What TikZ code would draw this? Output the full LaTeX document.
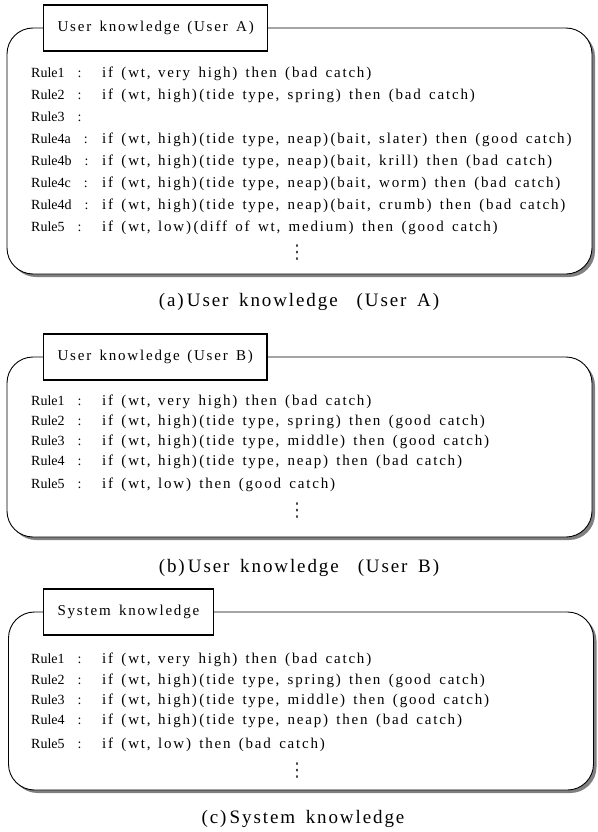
\documentclass[tikz,border=0pt]{standalone}
\usepackage{fontspec}
\setmainfont{Liberation Serif}
\newfontfamily\bodyfont[LetterSpace=12,WordSpace=1.5]{Liberation Serif}
\newfontfamily\capfont[LetterSpace=10,WordSpace=1.6]{Liberation Serif}
\newfontfamily\symfont{DejaVu Sans}
\usepackage{tikz}
\usetikzlibrary{positioning,shadows}

\newcommand{\rlab}[1]{\makebox[71pt][l]{#1\hspace{13pt}:}}
\newcommand{\vdotstext}{{\symfont\fontsize{19}{19}\selectfont ⋮}}

\begin{document}
\begin{tikzpicture}[x=1pt, y=-1pt,
    font=\fontsize{14}{16}\selectfont,
    kbox/.style={draw, line width=0.9pt, rounded corners=26pt, fill=white,
                 minimum width=585pt,
                 drop shadow={shadow xshift=3pt, shadow yshift=-3pt, fill=black!50, opacity=1}},
    tbox/.style={draw, line width=1.1pt, fill=white, minimum height=46pt,
                 inner xsep=14pt, font=\fontsize{15}{17}\selectfont\bodyfont},
    ruleline/.style={anchor=west, inner sep=0pt, text height=10pt, text depth=3pt},
    vdotsnode/.style={inner sep=0pt, text=black!75},
    capnode/.style={font=\fontsize{19}{21}\selectfont\capfont}]

    \useasboundingbox (0,0) rectangle (597,832);

    % (a) User A
    \node[kbox, minimum height=246pt] (KA) at (299.5,151) {};
    \node[tbox, anchor=west] (TA) at (43,28) {User knowledge\enspace(User A)};
    \foreach \y/\lab/\txt [count=\i] in {
        74/Rule1/{if (wt,\enspace very high) then (bad catch)},
        96/Rule2/{if (wt,\enspace high)\,(tide type, spring) then (bad catch)},
        118/Rule3/{},
        140/Rule4a/{if (wt,\enspace high)\,(tide type, neap)\,(bait, slater) then (good catch)},
        162/Rule4b/{if (wt,\enspace high)\,(tide type, neap)\,(bait, krill) then (bad catch)},
        184/Rule4c/{if (wt,\enspace high)\,(tide type, neap)\,(bait, worm) then (bad catch)},
        206/Rule4d/{if (wt,\enspace high)\,(tide type, neap)\,(bait, crumb) then (bad catch)},
        228/Rule5/{if (wt,\enspace low)\,(diff of wt, medium) then (good catch)}}{
      \node[ruleline] (A\i) at (31,\y) {\rlab{\lab}{\fontsize{15}{17}\bodyfont\txt}};
    }
    \node[vdotsnode] (DA) at (297,253) {\vdotstext};
    \node[capnode] (CA) at (299,302) {(a)\,User knowledge\quad(User A)};

    % (b) User B
    \node[kbox, minimum height=180pt] (KB) at (299.5,447) {};
    \node[tbox, anchor=west] (TB) at (43,357) {User knowledge\enspace(User B)};
    \foreach \y/\lab/\txt [count=\i] in {
        402/Rule1/{if (wt,\enspace very high) then (bad catch)},
        422/Rule2/{if (wt,\enspace high)\,(tide type, spring) then (good catch)},
        442/Rule3/{if (wt,\enspace high)\,(tide type, middle) then (good catch)},
        462/Rule4/{if (wt,\enspace high)\,(tide type, neap) then (bad catch)},
        485/Rule5/{if (wt,\enspace low) then (good catch)}}{
      \node[ruleline] (B\i) at (31,\y) {\rlab{\lab}{\fontsize{15}{17}\bodyfont\txt}};
    }
    \node[vdotsnode] (DB) at (297,511) {\vdotstext};
    \node[capnode] (CB) at (299,568) {(b)\,User knowledge\quad(User B)};

    % (c) System
    \node[kbox, minimum height=178pt] (KS) at (301,701) {};
    \node[tbox, anchor=west] (TS) at (43,612) {System knowledge};
    \foreach \y/\lab/\txt [count=\i] in {
        660/Rule1/{if (wt,\enspace very high) then (bad catch)},
        681/Rule2/{if (wt,\enspace high)\,(tide type, spring) then (good catch)},
        701/Rule3/{if (wt,\enspace high)\,(tide type, middle) then (good catch)},
        721/Rule4/{if (wt,\enspace high)\,(tide type, neap) then (bad catch)},
        745/Rule5/{if (wt,\enspace low) then (bad catch)}}{
      \node[ruleline] (S\i) at (31,\y) {\rlab{\lab}{\fontsize{15}{17}\bodyfont\txt}};
    }
    \node[vdotsnode] (DS) at (297,771) {\vdotstext};
    \node[capnode] (CS) at (303,819) {(c)\,System knowledge};

\end{tikzpicture}
\end{document}
